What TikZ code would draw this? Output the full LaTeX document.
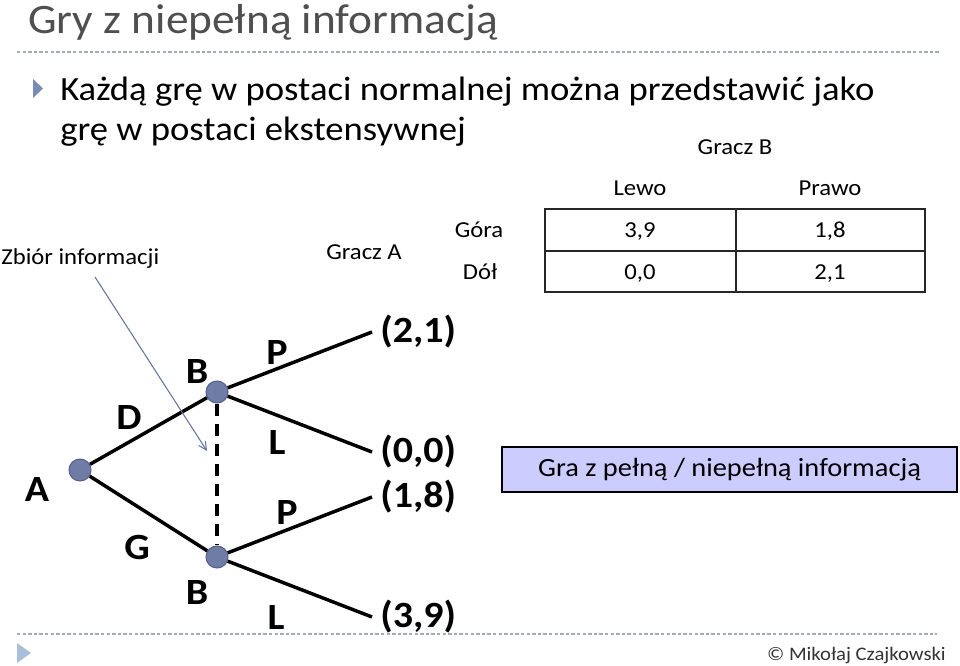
\documentclass[tikz,border=0pt]{standalone}
\usepackage{fontspec}
\setmainfont{Carlito}
\usetikzlibrary{arrows.meta}
\definecolor{titlegray}{HTML}{4F4F4F}
\definecolor{bulletblue}{HTML}{7A8BB6}
\definecolor{footblue}{HTML}{A8BFDC}
\definecolor{nodefill}{HTML}{6F7CA6}
\definecolor{nodeborder}{HTML}{55618A}
\definecolor{arrowcol}{HTML}{66759A}
\definecolor{sepcol}{HTML}{A3ABB5}
\definecolor{boxfill}{HTML}{CCCCFF}
\begin{document}
\begin{tikzpicture}[x=0.75pt,y=-0.75pt,
  txt/.style={inner sep=0pt, yscale=0.925},
  small/.style={txt, font=\fontsize{18.5}{22}\selectfont},
  big/.style={txt, font=\fontsize{27.5}{32}\selectfont},
  lbl/.style={txt, font=\fontsize{30}{34}\selectfont\bfseries},
  pay/.style={txt, anchor=west, inner xsep=6pt, font=\fontsize{30}{34}\selectfont\bfseries},
  dec/.style={circle, fill=nodefill, draw=nodeborder, line width=0.8pt, minimum size=16.5pt, inner sep=0pt},
  edge/.style={line width=2.6pt, black},
  sepline/.style={sepcol, line width=0.8pt, dash pattern=on 2.6pt off 1.6pt},
  tabline/.style={line width=1.3pt, black!85}]
\useasboundingbox[fill=white] (0,0) rectangle (960,666);

% title and separators
\node[txt, anchor=base west, text=titlegray, font=\fontsize{34}{38}\selectfont] (title) at (28,34) {Gry z niepełną informacją};
\draw[sepline] (17,52) -- (940,52);
\draw[sepline] (17,634) -- (937,634);

% bullet
\fill[bulletblue] (33,79) -- (33,98) -- (43,88.5) -- cycle;
\node[big, anchor=base west] (l1) at (60,101) {Każdą grę w postaci normalnej można przedstawić jako};
\node[big, anchor=base west] (l2) at (60,141) {grę w postaci ekstensywnej};

% table
\node[small, anchor=base] (gb) at (735,155) {Gracz B};
\node[small, anchor=base] (lewo) at (640,196) {Lewo};
\node[small, anchor=base] (prawo) at (830,196) {Prawo};
\node[small, anchor=base] (gora) at (479,238) {Góra};
\node[small, anchor=base] (dol) at (480,280) {Dół};
\draw[tabline] (545,209) rectangle (925,292);
\draw[tabline] (545,251) -- (925,251);
\draw[tabline] (736,209) -- (736,292);
\node[small, anchor=base] (c11) at (640,238) {3,9};
\node[small, anchor=base] (c12) at (830,238) {1,8};
\node[small, anchor=base] (c21) at (640,280) {0,0};
\node[small, anchor=base] (c22) at (830,280) {2,1};

% labels
\node[small, anchor=base west] (zb) at (1,265) {Zbiór informacji};
\node[small, anchor=base] (ga) at (364,260) {Gracz A};

% tree
\node[dec] (A) at (80,470) {};
\node[dec] (B1) at (217,392) {};
\node[dec] (B2) at (217,557) {};
\node[pay] (p1) at (372,332) {(2,1)};
\node[pay] (p2) at (372,452) {(0,0)};
\node[pay] (p3) at (372,497) {(1,8)};
\node[pay] (p4) at (372,617) {(3,9)};
\draw[edge] (A) -- (B1);
\draw[edge] (A) -- (B2);
\draw[edge] (B1) -- (p1.west);
\draw[edge] (B1) -- (p2.west);
\draw[edge] (B2) -- (p3.west);
\draw[edge] (B2) -- (p4.west);
\draw[line width=2.6pt, dash pattern=on 9pt off 6pt] (B1) -- (B2);

\node[lbl] (la) at (37,490) {A};
\node[lbl] (ld) at (129,418) {D};
\node[lbl] (lg) at (137,547) {G};
\node[lbl] (lb1) at (197,372) {B};
\node[lbl] (lb2) at (197,593) {B};
\node[lbl] (lp1) at (277,353) {P};
\node[lbl] (ll1) at (277,443) {L};
\node[lbl] (lp2) at (287,513) {P};
\node[lbl] (ll2) at (276,618) {L};

% information set arrow
\coordinate (zs) at (95,277);
\coordinate (zt) at (207,451);
\draw[arrowcol, line width=0.8pt, -{Straight Barb[length=6pt,width=6pt]}] (zs) -- (zt);

% box
\node[draw=black, line width=1.3pt, fill=boxfill, minimum width=341pt, minimum height=36.5pt, inner sep=0pt, yscale=0.925, font=\fontsize{21.3}{24}\selectfont] (box) at (729.5,469.5) {Gra z pełną / niepełną informacją};

% footer
\fill[footblue] (17,643) -- (17,663) -- (31,653) -- cycle;
\node[txt, anchor=base east, text=black!80, font=\fontsize{15.5}{18}\selectfont] (copy) at (946,660) {© Mikołaj Czajkowski};
\end{tikzpicture}
\end{document}
